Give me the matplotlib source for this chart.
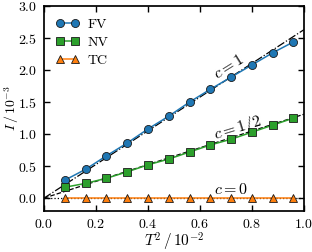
import numpy as np
import matplotlib
matplotlib.use('Agg')
import matplotlib.pyplot as plt

# Data
T2 = [0.08, 0.16, 0.24, 0.32, 0.40, 0.48, 0.56, 0.64, 0.72, 0.80, 0.88, 0.96]
fv = [0.28, 0.45, 0.66, 0.86, 1.08, 1.28, 1.50, 1.70, 1.89, 2.08, 2.27, 2.44]
nv = [0.17, 0.23, 0.31, 0.41, 0.52, 0.61, 0.72, 0.83, 0.92, 1.03, 1.14, 1.25]
tc = [0.0] * 12

# guide lines through the origin
fit_x = [0.0, 1.0]
slopes = [2.63, 1.31, 0.0]
fit_labels = ['$c=1$', '$c=1/2$', '$c=0$']

plt.rcParams['font.family'] = 'serif'
plt.rcParams['font.serif'] = ['cmr10']
plt.rcParams['mathtext.fontset'] = 'cm'
plt.rcParams['axes.formatter.use_mathtext'] = True
plt.rcParams['font.size'] = 10

fig = plt.figure(figsize=(3.12, 2.52), dpi=100)
ax = fig.add_axes([0.141, 0.163, 0.833, 0.813])

ax.plot(T2, fv, '-o', color='#1f77b4', mec='#1a1a1a', mew=0.6, ms=5.8, lw=1.1, label='FV', zorder=3)
ax.plot(T2, nv, '-s', color='#2ca02c', mec='#1a1a1a', mew=0.6, ms=5.3, lw=1.1, label='NV', zorder=3)
ax.plot(T2, tc, '-^', color='#ff7f0e', mec='#1a1a1a', mew=0.6, ms=5.8, lw=1.1, label='TC', zorder=3)

styles = ['-.', '--', ':']
for s, ls in zip(slopes, styles):
    ax.plot(fit_x, [s * x for x in fit_x], ls, color='k', lw=0.9, zorder=2)

ax.text(0.71, 2.06, fit_labels[0], rotation=32, fontsize=11.5, ha='center', va='center')
ax.text(0.745, 1.09, fit_labels[1], rotation=17, fontsize=11.5, ha='center', va='center')
ax.text(0.72, 0.14, fit_labels[2], rotation=0, fontsize=11.5, ha='center', va='center')

ax.set_xlim(0.0, 1.0)
ax.set_ylim(-0.2, 3.0)
ax.set_xticks(np.arange(0, 1.01, 0.2))
ax.set_yticks(np.arange(0, 3.01, 0.5))
ax.tick_params(direction='in', top=True, right=True, length=4, width=1.0)
ax.tick_params(axis='y', pad=5)
ax.tick_params(axis='x', pad=5)
for sp in ax.spines.values():
    sp.set_linewidth(1.25)

ax.set_xlabel(r'$T^2\,/\,10^{-2}$', fontsize=11)
ax.set_ylabel(r'$I\,/\,10^{-3}$', fontsize=10)
ax.xaxis.label.set_va('center')
ax.yaxis.label.set_va('center')
ax.xaxis.set_label_coords(0.5, -0.153)
ax.yaxis.set_label_coords(-0.125, 0.5)

ax.legend(loc='upper left', frameon=False, numpoints=2, fontsize=10,
          handlelength=1.7, borderaxespad=0.45, labelspacing=0.4, handletextpad=0.6)

fig.savefig('out.png', dpi=100)
